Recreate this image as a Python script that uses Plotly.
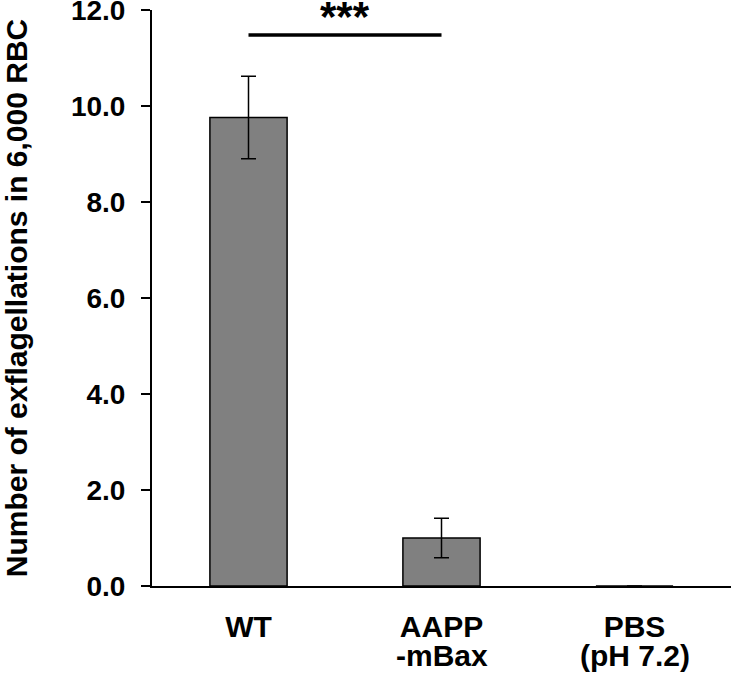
import plotly.graph_objects as go

categories = ["WT", "AAPP -mBax", "PBS (pH 7.2)"]
label_line1 = ["WT", "AAPP", "PBS"]
label_line2 = ["", "-mBax", "(pH 7.2)"]
values = [9.76, 1.0, 0.0]
errors = [0.86, 0.41, 0.0]
y_ticks = [0, 2, 4, 6, 8, 10, 12]
y_tick_labels = ["0.0", "2.0", "4.0", "6.0", "8.0", "10.0", "12.0"]
sig_pair = (0, 1)
sig_y = 11.48
sig_text = "***"
y_title = "Number of exflagellations in 6,000 RBC"

FONT = "Liberation Sans, Arial, sans-serif"
XFONT = dict(family=FONT, size=30, color="#000000", weight="bold")

fig = go.Figure()
fig.add_trace(go.Bar(
    x=categories, y=values,
    width=0.40,
    marker=dict(color="#808080", line=dict(color="#000000", width=1.5)),
    error_y=dict(type="data", array=errors, visible=True,
                 color="#000000", thickness=1.5, width=7.5),
    hoverinfo="skip",
))

fig.add_shape(type="line", xref="x", yref="y",
              x0=sig_pair[0], x1=sig_pair[1], y0=sig_y, y1=sig_y,
              line=dict(color="#000000", width=3.5))
fig.add_annotation(x=(sig_pair[0] + sig_pair[1]) / 2, y=sig_y, xref="x", yref="y",
                   text="<b>" + sig_text + "</b>", showarrow=False,
                   yanchor="middle", yshift=18,
                   font=dict(family=FONT, size=42, color="#000000"))

# second line of the category labels
for cat, txt in zip(categories, label_line2):
    if txt:
        fig.add_annotation(x=cat, y=0, xref="x", yref="paper",
                           text="<b>" + txt + "</b>", showarrow=False,
                           yanchor="top", yshift=-51,
                           font=dict(family=FONT, size=30, color="#000000"))

fig.update_layout(
    template="none",
    width=733, height=691,
    margin=dict(l=152, r=2, t=10, b=105, autoexpand=False),
    plot_bgcolor="#ffffff", paper_bgcolor="#ffffff",
    showlegend=False,
    font=dict(family=FONT, color="#000000"),
)
fig.update_xaxes(
    type="category", range=[-0.5, 2.5], automargin=False,
    tickvals=categories, ticktext=label_line1,
    showline=True, linecolor="#000000", linewidth=2,
    ticks="", showgrid=False, zeroline=False,
    tickfont=XFONT, ticklabelstandoff=13,
)
fig.update_yaxes(
    range=[0, 12], automargin=False,
    tickvals=y_ticks, ticktext=y_tick_labels,
    ticklabeloverflow="allow",
    showline=True, linecolor="#000000", linewidth=2,
    ticks="outside", ticklen=9, tickwidth=2, tickcolor="#000000",
    showgrid=False, zeroline=False,
    tickfont=dict(family=FONT, size=28, color="#000000", weight="bold"),
    ticklabelstandoff=10,
    title=dict(text=y_title, font=dict(family=FONT, size=30, color="#000000", weight="bold"),
               standoff=47),
)

fig.write_html("out.html", config={"displayModeBar": False},
               post_script="document.body.style.margin='0px';")
